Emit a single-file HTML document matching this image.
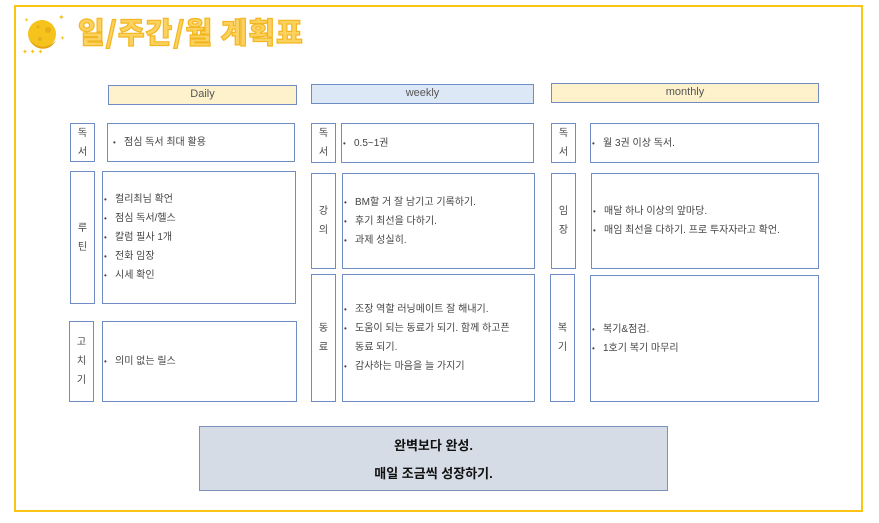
<!DOCTYPE html>
<html><head><meta charset="utf-8"><style>
body{margin:0;width:879px;height:523px;background:#fff;position:relative;overflow:hidden;font-family:"Liberation Sans","Noto Sans CJK KR",sans-serif;}
.b{position:absolute;box-sizing:border-box;border:1.5px solid #6f8cc4;background:#fff;}
.h{font-size:11px;color:#555;text-align:center;line-height:16px;}
.lab{display:flex;flex-direction:column;justify-content:center;align-items:center;font-size:10px;color:#444;line-height:19px;}
.c{display:flex;flex-direction:column;justify-content:center;font-size:10px;color:#444;line-height:19px;padding-left:5px;}
.c div{padding-left:11px;text-indent:-11px;}
.c div::before{content:"•";display:inline-block;width:11px;text-indent:0;font-size:8px;}
</style></head><body>
<div style="position:absolute;left:14px;top:5px;width:849px;height:507px;box-sizing:border-box;border:2px solid #fcc414;"></div>
<svg style="position:absolute;left:20px;top:10px" width="50" height="48">
<circle cx="22" cy="24" r="14" fill="#f6c21c"/><path d="M10 30 A14 14 0 0 0 36 30 A16 16 0 0 1 10 30Z" fill="#e5a210"/>
<circle cx="28" cy="20" r="3" fill="#e9ad1a"/><circle cx="18" cy="17" r="1.5" fill="#e9ad1a"/><circle cx="20" cy="29" r="2" fill="#e9ad1a"/>
<text x="38" y="10" font-size="8" fill="#f6c21c">✦</text><text x="2" y="44" font-size="7" fill="#f6c21c">✦ ✦ ✦</text><text x="40" y="30" font-size="6" fill="#f6c21c">✦</text><text x="4" y="12" font-size="6" fill="#f6c21c">✦</text>
</svg>
<div style="position:absolute;left:78px;top:13px;font-size:29px;font-weight:900;color:#fbd260;-webkit-text-stroke:1.2px #f3b620;letter-spacing:1px;font-family:'Noto Sans CJK KR',sans-serif;line-height:36px;">일/주간/월 계획표</div>

<div class="b h" style="left:108px;top:85px;width:189px;height:20px;background:#fdf2cc;">Daily</div>
<div class="b h" style="left:311px;top:84px;width:223px;height:20px;background:#dde8f6;">weekly</div>
<div class="b h" style="left:551px;top:83px;width:268px;height:20px;background:#fdf2cc;">monthly</div>

<div class="b lab" style="left:70px;top:123px;width:25px;height:39px;"><span>독</span><span>서</span></div>
<div class="b c" style="left:107px;top:123px;width:188px;height:39px;"><div>점심 독서 최대 활용</div></div>
<div class="b lab" style="left:70px;top:171px;width:25px;height:133px;"><span>루</span><span>틴</span></div>
<div class="b c" style="left:102px;top:171px;width:194px;height:133px;padding-left:1px;"><div>컬리최님 확언</div><div>점심 독서/헬스</div><div>칼럼 필사 1개</div><div>전화 임장</div><div>시세 확인</div></div>
<div class="b lab" style="left:69px;top:321px;width:25px;height:81px;"><span>고</span><span>치</span><span>기</span></div>
<div class="b c" style="left:102px;top:321px;width:195px;height:81px;padding-left:1px;"><div>의미 없는 릴스</div></div>

<div class="b lab" style="left:311px;top:123px;width:25px;height:40px;"><span>독</span><span>서</span></div>
<div class="b c" style="left:341px;top:123px;width:193px;height:40px;padding-left:1px;"><div>0.5~1권</div></div>
<div class="b lab" style="left:311px;top:173px;width:25px;height:96px;"><span>강</span><span>의</span></div>
<div class="b c" style="left:342px;top:173px;width:193px;height:96px;padding-left:1px;"><div>BM할 거 잘 남기고 기록하기.</div><div>후기 최선을 다하기.</div><div>과제 성실히.</div></div>
<div class="b lab" style="left:311px;top:274px;width:25px;height:128px;"><span>동</span><span>료</span></div>
<div class="b c" style="left:342px;top:274px;width:193px;height:128px;padding-left:1px;padding-right:14px;"><div>조장 역할 러닝메이트 잘 해내기.</div><div>도움이 되는 동료가 되기. 함께 하고픈 동료 되기.</div><div>감사하는 마음을 늘 가지기</div></div>

<div class="b lab" style="left:551px;top:123px;width:25px;height:40px;"><span>독</span><span>서</span></div>
<div class="b c" style="left:590px;top:123px;width:229px;height:40px;padding-left:1px;"><div>월 3권 이상 독서.</div></div>
<div class="b lab" style="left:551px;top:173px;width:25px;height:96px;"><span>임</span><span>장</span></div>
<div class="b c" style="left:591px;top:173px;width:228px;height:96px;padding-left:1px;"><div>매달 하나 이상의 앞마당.</div><div>매임 최선을 다하기. 프로 투자자라고 확언.</div></div>
<div class="b lab" style="left:550px;top:274px;width:25px;height:128px;"><span>복</span><span>기</span></div>
<div class="b c" style="left:590px;top:275px;width:229px;height:127px;padding-left:1px;"><div>복기&amp;점검.</div><div>1호기 복기 마무리</div></div>

<div class="b" style="left:199px;top:426px;width:469px;height:65px;background:#d6dce5;border-color:#7d93be;text-align:center;font-weight:bold;font-size:13px;color:#111;line-height:28px;padding-top:5px;">완벽보다 완성.<br>매일 조금씩 성장하기.</div>
</body></html>
